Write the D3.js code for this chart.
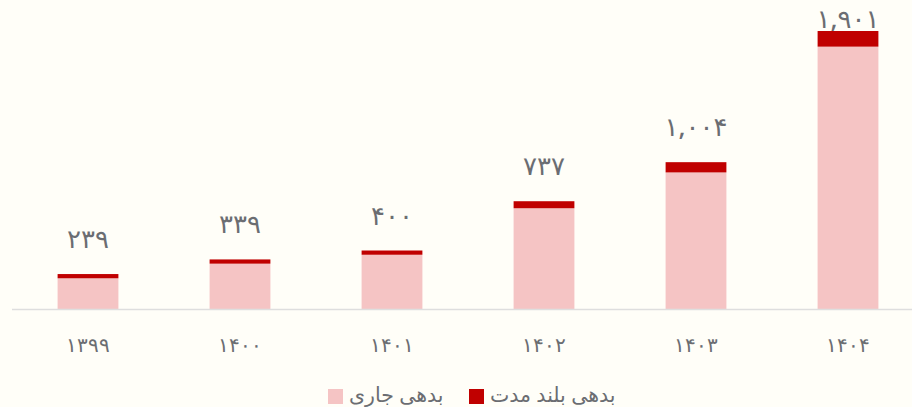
<!DOCTYPE html>
<html>
<head>
<meta charset="utf-8">
<script src="https://cdn.jsdelivr.net/npm/d3@7"></script>
<style>
  body { margin: 0; background: #fffef8; }
  svg { display: block; font-family: "Noto Sans", "DejaVu Sans", sans-serif; }
</style>
</head>
<body>
<div id="chart"></div>
<script>
// years (shamsi) and debt values
const years = ["1399", "1400", "1401", "1402", "1403", "1404"];
const currentDebt = [210, 310, 371, 689, 934, 1794];   // بدهی جاری
const longDebt = [29, 29, 29, 48, 70, 107];            // بدهی بلند مدت
const seriesNames = ["بدهی جاری", "بدهی بلند مدت"];
const colors = ["#f5c4c4", "#c00000"];

const width = 912, height = 407;
const faDigits = "۰۱۲۳۴۵۶۷۸۹";
const toFa = s => String(s).replace(/[0-9]/g, d => faDigits[+d]);
const fmt = d3.format(",");

const rows = years.map((y, i) => ({ year: y, current: currentDebt[i], long: longDebt[i] }));
const stack = d3.stack().keys(["current", "long"])(rows);

const svg = d3.select("#chart").append("svg")
  .attr("width", width)
  .attr("height", height);

svg.append("rect").attr("width", width).attr("height", height).attr("fill", "#fffef8");

const x = d3.scaleBand()
  .domain(years)
  .range([12, 924])
  .paddingInner(0.6)
  .paddingOuter(0.3);

const y = d3.scaleLinear()
  .domain([0, d3.max(rows, d => d.current + d.long)])
  .range([309, 31]);

// bars
svg.selectAll("g.series")
  .data(stack)
  .join("g")
  .attr("class", "series")
  .attr("fill", (d, i) => colors[i])
  .selectAll("rect")
  .data(d => d)
  .join("rect")
  .attr("x", d => x(d.data.year))
  .attr("y", d => y(d[1]))
  .attr("width", x.bandwidth())
  .attr("height", d => y(d[0]) - y(d[1]));

// baseline
svg.append("line")
  .attr("x1", 12).attr("x2", width)
  .attr("y1", 309.5).attr("y2", 309.5)
  .attr("stroke", "#dedede")
  .attr("stroke-width", 1.5);

// x axis labels
const xAxis = svg.append("g")
  .attr("transform", "translate(0,309)")
  .call(d3.axisBottom(x).tickSize(0).tickPadding(29).tickFormat(toFa));
xAxis.select(".domain").remove();
xAxis.selectAll("text")
  .attr("fill", "#6b6d72")
  .attr("font-size", 20)
  .attr("font-weight", 500);

// total labels
svg.append("g")
  .selectAll("text")
  .data(rows)
  .join("text")
  .attr("x", d => x(d.year) + x.bandwidth() / 2)
  .attr("y", d => Math.max(y(d.current + d.long) - 26, 28))
  .attr("text-anchor", "middle")
  .attr("fill", "#6b6d72")
  .attr("font-size", 26)
  .attr("font-weight", 500)
  .text(d => toFa(fmt(d.current + d.long)));

// legend
const legendX = [328, 469];
const legendOrder = [0, 1];
const legend = svg.append("g")
  .selectAll("g")
  .data(legendOrder)
  .join("g")
  .attr("transform", (d, i) => "translate(" + legendX[i] + ",389)");
legend.append("rect")
  .attr("width", 15).attr("height", 15)
  .attr("fill", d => colors[d]);
legend.append("text")
  .attr("x", 21).attr("y", 13)
  .attr("fill", "#6b6d72")
  .attr("font-size", 20.5)
  .attr("direction", "rtl")
  .attr("text-anchor", "end")
  .text(d => seriesNames[d]);
</script>
</body>
</html>
